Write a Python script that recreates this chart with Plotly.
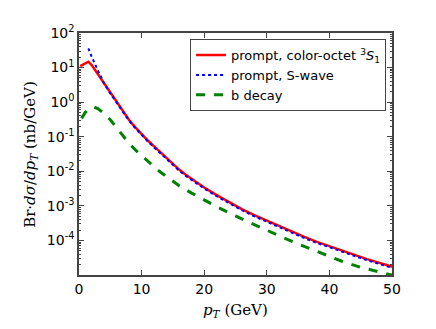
import plotly.graph_objects as go

# ---- data ----
pt_red = [0.2, 1.5, 2, 3, 4, 5, 6, 7, 8, 9, 10, 11, 12, 13, 14, 15, 16, 17, 18, 19, 20, 22,
          24, 26, 28, 30, 32, 34, 36, 38, 40, 42, 44, 46, 48, 50]
red = [11, 14.8, 12, 6.5, 3.4, 1.8, 0.98, 0.54, 0.305, 0.186, 0.1175, 0.0776, 0.0525, 0.0355,
       0.024, 0.0162, 0.0112, 0.0081, 0.0060, 0.00447, 0.00339, 0.00204, 0.00126, 0.00081,
       0.000537, 0.000372, 0.000257, 0.000178, 0.000126, 0.0000912, 0.0000676, 0.0000501,
       0.000038, 0.0000288, 0.0000224, 0.0000174]

pt_blue = [1.5, 2, 3, 4, 5, 6, 7, 8, 9, 10, 11, 12, 13, 14, 15, 16, 17, 18, 19, 20, 22, 24,
           26, 28, 30, 32, 34, 36, 38, 40, 42, 44, 46, 48, 50]
blue = [36, 21, 8.4, 3.5, 1.78, 0.95, 0.52, 0.29, 0.177, 0.111, 0.073, 0.049, 0.033, 0.0224,
        0.0151, 0.0104, 0.0075, 0.0056, 0.0042, 0.00316, 0.0019, 0.00117, 0.00075, 0.0005,
        0.000346, 0.000239, 0.000166, 0.000117, 0.0000848, 0.0000629, 0.0000466,
        0.0000353, 0.0000268, 0.0000208, 0.0000162]

pt_green = [0.4, 1, 1.5, 2.3, 3, 4, 5, 6, 7, 8, 9, 10, 11, 12, 13, 14, 15, 16, 18, 20, 22,
            25, 28, 30, 32, 35, 38, 40, 42, 45, 48, 50]
green = [0.34, 0.5, 0.62, 0.73, 0.65, 0.47, 0.31, 0.18, 0.104, 0.064, 0.0417, 0.0282, 0.0193,
         0.0135, 0.0095, 0.0069, 0.0051, 0.0038, 0.00234, 0.00148, 0.00095, 0.00051,
         0.000285, 0.000195, 0.000135, 0.000079, 0.000048, 0.000035, 0.000025, 0.0000166,
         0.0000126, 0.0000100]

names = ["prompt, color-octet <sup>3</sup><i>S</i><sub>1</sub>", "prompt, S-wave", "b decay"]
x_ticks = [0, 10, 20, 30, 40, 50]
y_tick_exps = [-4, -3, -2, -1, 0, 1, 2]

fig = go.Figure()
fig.add_trace(go.Scatter(x=pt_red, y=red, mode="lines", name=names[0],
                         line=dict(color="#ff0000", width=2.5)))
fig.add_trace(go.Scatter(x=pt_blue, y=blue, mode="lines", name=names[1],
                         line=dict(color="#0000ff", width=2, dash="dot")))
fig.add_trace(go.Scatter(x=pt_green, y=green, mode="lines", name=names[2],
                         line=dict(color="#008000", width=3, dash="dash")))

minor_y = [m * 10 ** e for e in range(-5, 2) for m in range(2, 10)]
axis_col = "#444444"
tickfont = dict(family="DejaVu Sans", size=14, color="black")

# page body has an 8px default margin; size the figure so the plot area lands
# at the same window pixels as the reference (plot area x 79..392, y 33..275)
fig.update_layout(
    width=428, height=313,
    margin=dict(l=71, r=44, t=25, b=46),
    paper_bgcolor="white", plot_bgcolor="white",
    showlegend=True,
    legend=dict(x=0.981, y=0.975, xanchor="right", yanchor="top",
                bgcolor="white", bordercolor=axis_col, borderwidth=1,
                font=dict(family="DejaVu Sans", size=13, color="black"),
                tracegroupgap=0, itemwidth=30),
    xaxis=dict(range=[0, 50], tickmode="array", tickvals=x_ticks,
               ticktext=[str(v) for v in x_ticks],
               ticks="inside", ticklen=5, tickcolor=axis_col, mirror="ticks",
               showline=True, linecolor=axis_col, linewidth=1.5,
               showgrid=False, zeroline=False, tickfont=tickfont),
    yaxis=dict(type="log", range=[-5, 2], tickmode="array",
               tickvals=[10 ** e for e in y_tick_exps],
               ticktext=["10<sup>%d</sup>" % e for e in y_tick_exps],
               ticks="inside", ticklen=5, tickcolor=axis_col, mirror="ticks",
               showline=True, linecolor=axis_col, linewidth=1.5,
               showgrid=False, zeroline=False, tickfont=tickfont,
               minor=dict(tickmode="array", tickvals=minor_y, ticks="inside",
                          ticklen=2.5, tickcolor=axis_col, showgrid=False)),
    annotations=[
        dict(text="Br\u00b7<i>d\u03c3</i>/<i>dp<sub>T</sub></i> (nb/GeV)",
             xref="paper", yref="paper", x=-0.157, y=0.5, textangle=-90,
             showarrow=False, xanchor="center", yanchor="middle",
             font=dict(family="DejaVu Serif", size=15, color="black")),
        dict(text="<i>p<sub>T</sub></i> (GeV)",
             xref="paper", yref="paper", x=0.5, y=-0.145,
             showarrow=False, xanchor="center", yanchor="middle",
             font=dict(family="DejaVu Serif", size=15, color="black")),
    ],
)

fig.write_html("out.html")
